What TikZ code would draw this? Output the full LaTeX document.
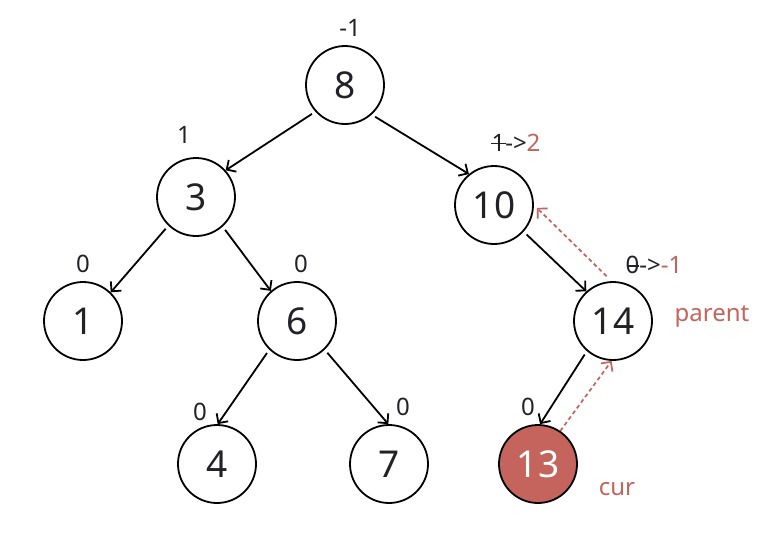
\documentclass[tikz,border=0pt]{standalone}
\usepackage{fontspec}
\setmainfont{Noto Sans}
\usetikzlibrary{arrows.meta}
\definecolor{redc}{RGB}{196,100,92}
\definecolor{ink}{RGB}{34,34,38}
\newcommand\strkdig[2]{\ooalign{#2\cr\hidewidth\rule[0.30em]{#1}{0.075em}\hidewidth\cr}}
\begin{document}
\begin{tikzpicture}[x=1pt,y=-1pt,
  tnode/.style={circle,draw=black,line width=1.8pt,minimum size=78pt,inner sep=0pt,
     font=\fontsize{37}{37}\selectfont,text=ink},
  curnode/.style={tnode,fill=redc,text=white},
  lbl/.style={font=\fontsize{24}{24}\selectfont,text=ink,inner sep=0pt},
  rlbl/.style={lbl,text=redc},
  tarrow/.style={line width=1.8pt,-{Straight Barb[length=7pt,width=14pt,line width=1.8pt]},shorten <=4pt},
  darrow/.style={line width=1.7pt,draw=redc,dash pattern=on 4pt off 3pt,
     -{Straight Barb[length=7pt,width=14pt,line width=1.7pt]}}]
\useasboundingbox (0,0) rectangle (778,555);
\fill[white] (0,0) rectangle (778,555);

\node[tnode] (n8) at (345,85) {8};
\node[tnode] (n3) at (196,197) {3};
\node[tnode] (n10) at (494,205) {10};
\node[tnode] (n1) at (83,321) {1};
\node[tnode] (n6) at (297,321) {6};
\node[tnode] (n14) at (613,321) {14};
\node[tnode] (n4) at (217,464) {4};
\node[tnode] (n7) at (389,464) {7};
\node[curnode] (n13) at (538,464) {13};

\node[lbl] (l8) at (350,28) {-1};
\node[lbl] (l3) at (184,135) {1};
\node[lbl] (l10) at (516,143) {\strkdig{0.62em}{1}->\textcolor{redc}{2}};
\node[lbl] (l1) at (83,264) {0};
\node[lbl] (l6) at (301,264) {0};
\node[lbl] (l14) at (654,265) {\strkdig{0.5em}{0}->\textcolor{redc}{-1}};
\node[lbl] (l4) at (200,412) {0};
\node[lbl] (l7) at (403,407) {0};
\node[lbl] (l13) at (528,407) {0};
\node[rlbl] (lpar) at (712,316) {parent};
\node[rlbl] (lcur) at (617,489) {cur};

\draw[tarrow] (n8.222) -- (n3.42);
\draw[tarrow] (n8.312) -- (n10.129);
\draw[tarrow] (n3.226) -- (n1.46);
\draw[tarrow] (n3.312) -- (n6.131);
\draw[tarrow] (n6.226) -- (n4.89);
\draw[tarrow] (n6.314) -- (n7.91);
\draw[tarrow] (n10.318) -- (n14.132);
\draw[tarrow] (n14.229) -- (n13.87);

\draw[darrow] (n13.56) -- (n14.268);
\draw[darrow,shorten <=7pt,shorten >=4pt] (n14.92) -- (n10.0);
\end{tikzpicture}
\end{document}
